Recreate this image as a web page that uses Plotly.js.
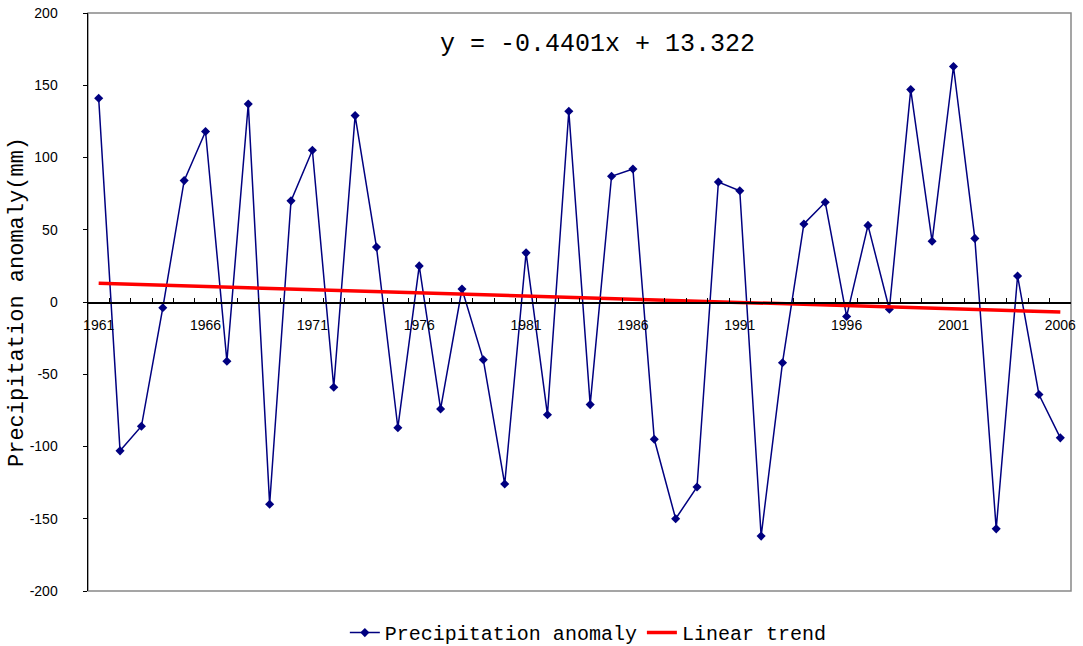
<!DOCTYPE html>
<html>
<head>
<meta charset="utf-8">
<script src="https://cdn.plot.ly/plotly-3.0.1.min.js"></script>
<style>html,body{margin:0;padding:0;background:#fff;}#chart{width:1083px;height:646px;}</style>
</head>
<body>
<div id="chart"></div>
<script>
const years = [1961,1962,1963,1964,1965,1966,1967,1968,1969,1970,1971,1972,1973,1974,1975,1976,1977,1978,1979,1980,1981,1982,1983,1984,1985,1986,1987,1988,1989,1990,1991,1992,1993,1994,1995,1996,1997,1998,1999,2000,2001,2002,2003,2004,2005,2006];
const anomaly = [141,-103,-86,-4,84,118,-41,137,-140,70,105,-59,129,38,-87,25,-74,9,-40,-126,34,-78,132,-71,87,92,-95,-150,-128,83,77,-162,-42,54,69,-10,53,-5,147,42,163,44,-157,18,-64,-94];
const trendYears = [1961, 2006];
const trendValues = [12.9, -6.9];
const tickYears = [1961,1966,1971,1976,1981,1986,1991,1996,2001,2006];
const yTicks = [200,150,100,50,0,-50,-100,-150,-200];
const equationText = 'y = -0.4401x + 13.322';

const monoFont = '"Liberation Mono", "DejaVu Sans Mono", monospace';
const sansFont = '"Liberation Sans", Arial, sans-serif';

const traces = [
  {
    x: years, y: anomaly, type: 'scatter', mode: 'lines+markers',
    name: 'Precipitation anomaly',
    line: {color: '#000080', width: 1.5},
    marker: {symbol: 'diamond', size: 7, color: '#000080'}
  },
  {
    x: trendYears, y: trendValues, type: 'scatter', mode: 'lines',
    name: 'Linear trend',
    line: {color: '#ff0000', width: 3.5}
  }
];

const layout = {
  width: 1083, height: 646,
  paper_bgcolor: '#ffffff', plot_bgcolor: '#ffffff',
  margin: {l: 88, r: 12, t: 13, b: 55, autoexpand: false},
  showlegend: true,
  legend: {
    orientation: 'h', x: 0.509, xanchor: 'center', y: -0.072, yanchor: 'middle',
    font: {family: monoFont, size: 20, color: '#000'},
    itemwidth: 30, tracegroupgap: 0
  },
  xaxis: {
    range: [1960.5, 2006.5],
    anchor: 'free', position: 0.5,
    showline: true, linecolor: '#000', linewidth: 1.5,
    showgrid: false, zeroline: false,
    tickmode: 'array', tickvals: tickYears, ticktext: tickYears.map(String),
    ticks: 'inside', ticklen: 0,
    minor: {ticks: 'inside', tick0: 1960.5, dtick: 1, ticklen: 4, tickcolor: '#000', showgrid: false},
    tickfont: {family: sansFont, size: 14, color: '#000'},
    ticklabelstandoff: 10
  },
  yaxis: {
    range: [-200, 200],
    showline: true, linecolor: '#000', linewidth: 1.5,
    showgrid: false, zeroline: false,
    tickmode: 'array', tickvals: yTicks, ticktext: yTicks.map(String),
    ticks: 'outside', ticklen: 4, tickcolor: '#000',
    tickfont: {family: sansFont, size: 14, color: '#000'},
    ticklabelstandoff: 22,
    title: {text: 'Precipitation anomaly(mm)', font: {family: monoFont, size: 22, color: '#000'}, standoff: 0}
  },
  shapes: [
    {type: 'rect', xref: 'paper', yref: 'paper', x0: 0, x1: 1, y0: 0, y1: 1,
     line: {color: '#888888', width: 1.5}, layer: 'below'}
  ],
  annotations: [
    {text: equationText, xref: 'paper', yref: 'paper', x: 0.518, y: 0.945,
     xanchor: 'center', yanchor: 'middle', showarrow: false,
     font: {family: monoFont, size: 25, color: '#000'}}
  ]
};

Plotly.newPlot('chart', traces, layout, {displayModeBar: false, staticPlot: true});
</script>
</body>
</html>
